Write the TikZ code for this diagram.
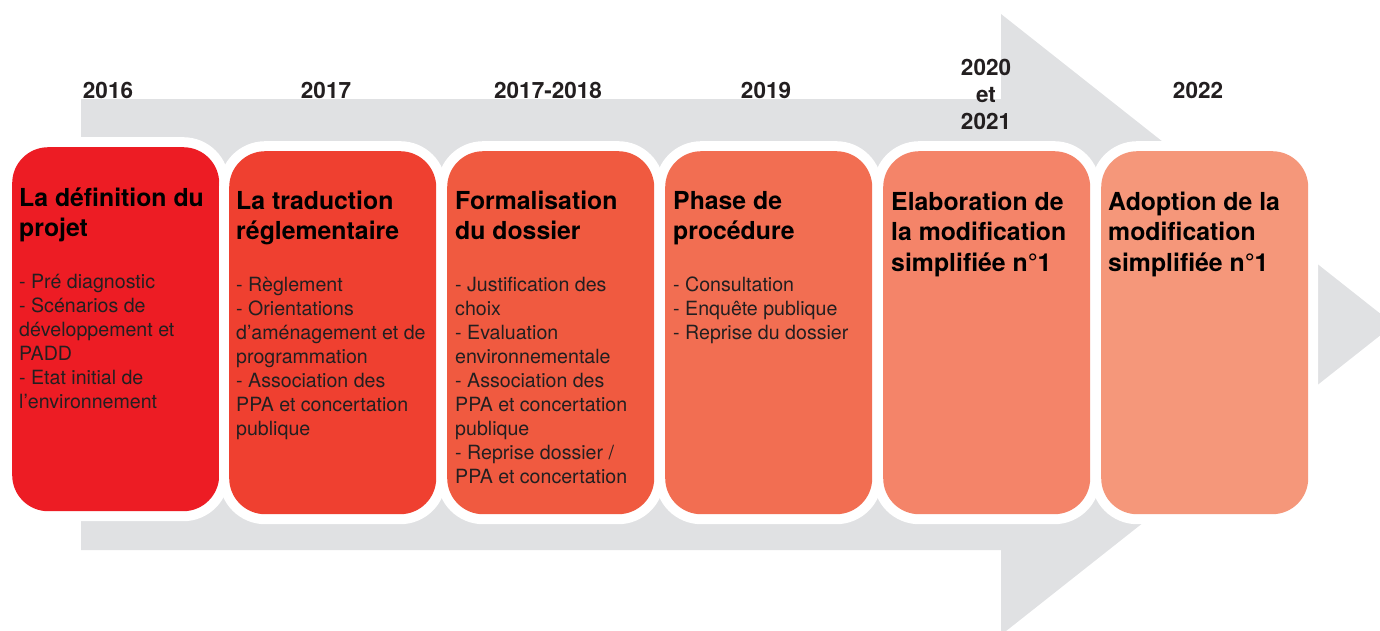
\documentclass[tikz,border=0pt]{standalone}
\usepackage{fontspec}
\setmainfont{TeX Gyre Heros}
\definecolor{arrowgrey}{RGB}{224,225,227}
\definecolor{boxA}{RGB}{237,28,36}
\definecolor{boxB}{RGB}{239,64,48}
\definecolor{boxC}{RGB}{240,90,64}
\definecolor{boxD}{RGB}{242,110,82}
\definecolor{boxE}{RGB}{244,132,105}
\definecolor{boxF}{RGB}{245,151,122}
\definecolor{inkdark}{RGB}{35,31,32}
\newcommand{\boxlines}[1]{\parbox[t]{205pt}{\raggedright #1}}
\begin{document}
\begin{tikzpicture}
[x=1pt,y=-1pt,%
  boxdecorate/.style={shape=rectangle,rounded corners=36pt,anchor=north west,inner sep=0pt,
    minimum width=207pt,preaction={draw=white,line width=20pt}},%
  titledecorate/.style={anchor=base west,inner sep=0pt,text=black,
    font=\fontsize{24.8}{30.5}\selectfont\bfseries},%
  listdecorate/.style={anchor=base west,inner sep=0pt,text=inkdark,
    font=\fontsize{19.6}{24}\selectfont},%
  yeardecorate/.style={anchor=base,inner sep=0pt,text=inkdark,
    font=\fontsize{22.5}{27}\selectfont\bfseries}]
\useasboundingbox (0,0) rectangle (1380,630);
\clip (0,0) rectangle (1380,630);
%% background arrow
\fill[arrowgrey] (81,99) -- (1001,99) -- (1001,14) -- (1394,324.5)
  -- (1001,635) -- (1001,550) -- (81,550) -- cycle;
%% years
\foreach \yearname/\x/\yeartext in {y2016/108/2016, y2017/326/2017,
  y2018/548/2017-2018, y2019/766/2019, y2022/1198/2022} {
  \node (\yearname) at (\x,98) [yeardecorate] {\yeartext};
}
\node (y2021) at (986,75) [yeardecorate] {\parbox[t]{80pt}{\centering 2020\\et\\2021}};
%% boxes
\foreach \boxname/\x/\y/\h/\col in {box1/12/147/364/boxA, box2/229/151/363/boxB,
  box3/447/151/363/boxC, box4/665/151/363/boxD, box5/883/151/363/boxE,
  box6/1101/151/363/boxF} {
  \node (\boxname) at (\x,\y) [boxdecorate,fill=\col,minimum height=\h pt] {};
}
%% titles
\node (title1) at (19,206) [titledecorate] {\boxlines{La définition du\\projet}};
\node (title2) at (236,209) [titledecorate] {\boxlines{La traduction\\réglementaire}};
\node (title3) at (455,209) [titledecorate] {\boxlines{Formalisation\\du dossier}};
\node (title4) at (673,209) [titledecorate] {\boxlines{Phase de\\procédure}};
\node (title5) at (891,210) [titledecorate] {\boxlines{Elaboration de\\la modification\\simplifiée n°1}};
\node (title6) at (1108,210) [titledecorate] {\boxlines{Adoption de la\\modification\\simplifiée n°1}};
%% lists
\node (list1) at (19,288) [listdecorate] {\boxlines{- Pré diagnostic\\- Scénarios de\\développement et\\PADD\\
  - Etat initial de\\l’environnement}};
\node (list2) at (236,291) [listdecorate] {\boxlines{- Règlement\\- Orientations\\d’aménagement et de\\
  programmation\\- Association des\\PPA et concertation\\publique}};
\node (list3) at (455,291) [listdecorate] {\boxlines{- Justification des\\choix\\- Evaluation\\
  environnementale\\- Association des\\PPA et concertation\\publique\\- Reprise dossier /\\PPA et concertation}};
\node (list4) at (673,291) [listdecorate] {\boxlines{- Consultation\\- Enquête publique\\- Reprise du dossier}};
\end{tikzpicture}
\end{document}
